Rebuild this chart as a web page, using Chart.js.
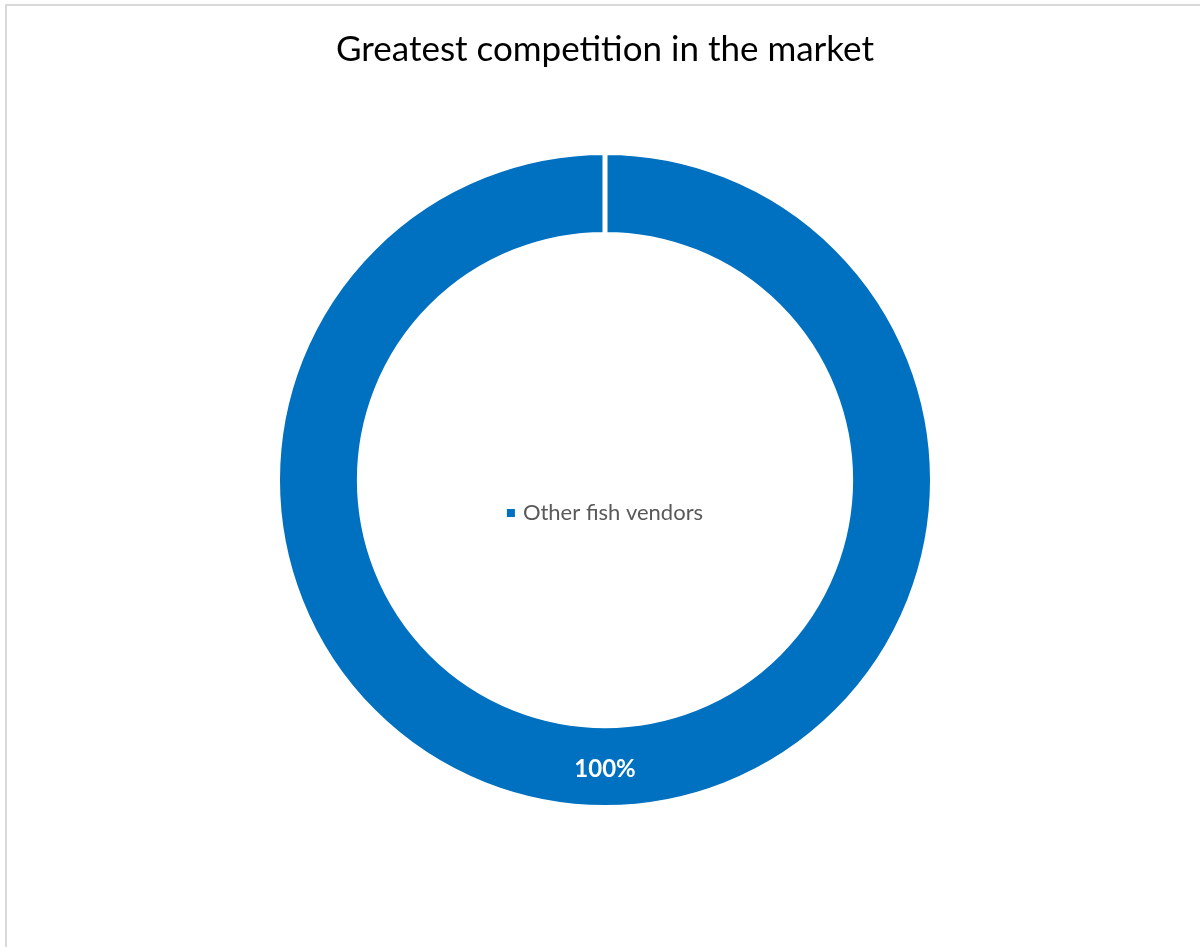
<!DOCTYPE html>
<html>
<head>
<meta charset="utf-8">
<script src="https://cdn.jsdelivr.net/npm/chart.js@4.4.1/dist/chart.umd.min.js"></script>
<style>
  html, body { margin: 0; padding: 0; background: #fff; }
  #wrap {
    position: absolute; left: 5px; top: 4px; width: 1195px; height: 943px;
    border-left: 2px solid #d9d9d9; border-top: 2px solid #d9d9d9;
    box-sizing: border-box;
  }
  #doughnut-chart { position: absolute; left: -7px; top: -6px; }
</style>
</head>
<body>
<div id="wrap"><canvas id="doughnut-chart" width="1200" height="947"></canvas></div>
<script>
// competitor shares
const labels = ["Other fish vendors"];
const shares = [100];
const colors = ["#0070c0"];

const fontFamily = "Lato, 'Open Sans', sans-serif";

// legend drawn in the hole of the ring
const centerLegend = {
  id: 'centerLegend',
  afterDraw(chart) {
    const ctx = chart.ctx;
    const area = chart.chartArea;
    const cx = (area.left + area.right) / 2;
    const cy = (area.top + area.bottom) / 2 + 33;
    ctx.save();
    ctx.font = "22px " + fontFamily;
    const text = chart.data.labels[0];
    const w = ctx.measureText(text).width;
    const start = cx - (w + 16) / 2;
    ctx.fillStyle = chart.data.datasets[0].backgroundColor[0];
    ctx.fillRect(start, cy - 4, 8, 8);
    ctx.fillStyle = "#595959";
    ctx.textBaseline = "middle";
    ctx.fillText(text, start + 16, cy);
    ctx.restore();
  }
};

// percentage label on each slice
const sliceLabels = {
  id: 'sliceLabels',
  afterDatasetsDraw(chart) {
    const ctx = chart.ctx;
    const meta = chart.getDatasetMeta(0);
    const total = shares.reduce((a, b) => a + b, 0);
    ctx.save();
    ctx.font = "bold 24px " + fontFamily;
    ctx.fillStyle = "#ffffff";
    ctx.textAlign = "center";
    ctx.textBaseline = "middle";
    meta.data.forEach((arc, i) => {
      const p = arc.tooltipPosition();
      ctx.fillText(Math.round(shares[i] / total * 100) + "%", p.x, p.y + 3);
    });
    ctx.restore();
  }
};

new Chart(document.getElementById("doughnut-chart"), {
  type: 'doughnut',
  data: {
    labels: labels,
    datasets: [{
      data: shares,
      backgroundColor: colors,
      borderColor: "#ffffff",
      borderWidth: 5
    }]
  },
  options: {
    responsive: false,
    animation: false,
    cutout: '75%',
    layout: { padding: { left: 10, right: 0, top: 0, bottom: 137 } },
    plugins: {
      legend: { display: false },
      tooltip: { enabled: false },
      title: {
        display: true,
        text: 'Greatest competition in the market',
        color: '#000000',
        font: { family: fontFamily, size: 35, weight: 'normal' },
        padding: { top: 29, bottom: 79 }
      }
    }
  },
  plugins: [centerLegend, sliceLabels]
});
</script>
</body>
</html>
